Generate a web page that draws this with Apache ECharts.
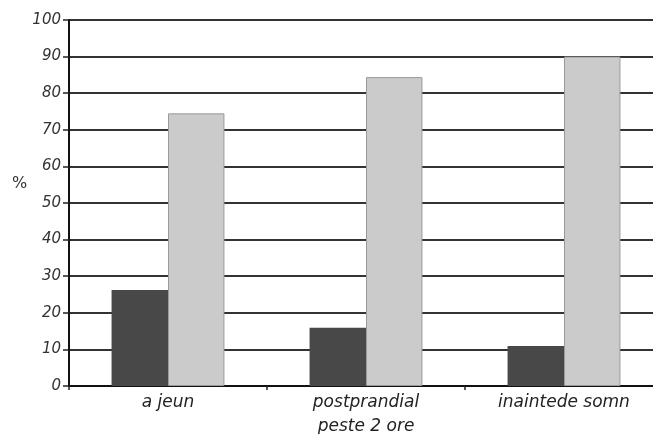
<!DOCTYPE html>
<html>
<head>
<meta charset="utf-8">
<script src="https://cdn.jsdelivr.net/npm/echarts@6/dist/echarts.min.js"></script>
<style>html,body{margin:0;padding:0;background:#fff;}#c{width:653px;height:434px;}</style>
</head>
<body>
<div id="c"></div>
<script>
const categories = ['a jeun', 'postprandial\npeste 2 ore', 'inaintede somn'];
const darkValues = [26.2, 15.9, 10.9];
const lightValues = [74.5, 84.4, 90];
const yTicks = [0, 10, 20, 30, 40, 50, 60, 70, 80, 90, 100];

const chart = echarts.init(document.getElementById('c'));
const font = 'DejaVu Sans, sans-serif';
chart.setOption({
  animation: false,
  grid: { left: 69, top: 20, height: 366, width: 594, containLabel: false, outerBoundsMode: 'none' },
  graphic: [{
    type: 'text', left: 12, top: 176,
    style: { text: '%', fill: '#333', font: '16px DejaVu Sans, sans-serif' }
  }],
  xAxis: {
    type: 'category',
    data: categories,
    axisLine: { lineStyle: { color: '#111', width: 2 } },
    axisTick: { show: true, length: 4, lineStyle: { color: '#222', width: 1.5 } },
    axisLabel: { color: '#222', fontStyle: 'italic', fontFamily: font, fontSize: 17, margin: 5, lineHeight: 24 }
  },
  yAxis: {
    type: 'value',
    min: yTicks[0], max: yTicks[yTicks.length - 1], interval: 10,
    axisLine: { show: true, lineStyle: { color: '#111', width: 2 } },
    axisTick: { show: true, length: 6, lineStyle: { color: '#222', width: 1.5 } },
    axisLabel: { color: '#333', fontStyle: 'italic', fontFamily: font, fontSize: 15, margin: 8 },
    splitLine: { show: true, lineStyle: { color: '#333', width: 2 } }
  },
  series: [
    { type: 'bar', data: darkValues, barGap: '0%', barCategoryGap: '43%',
      itemStyle: { color: '#484848' } },
    { type: 'bar', data: lightValues, barGap: '0%', barCategoryGap: '43%',
      itemStyle: { color: '#cbcbcb', borderColor: '#9a9a9a', borderWidth: 1 } }
  ]
});
</script>
</body>
</html>
